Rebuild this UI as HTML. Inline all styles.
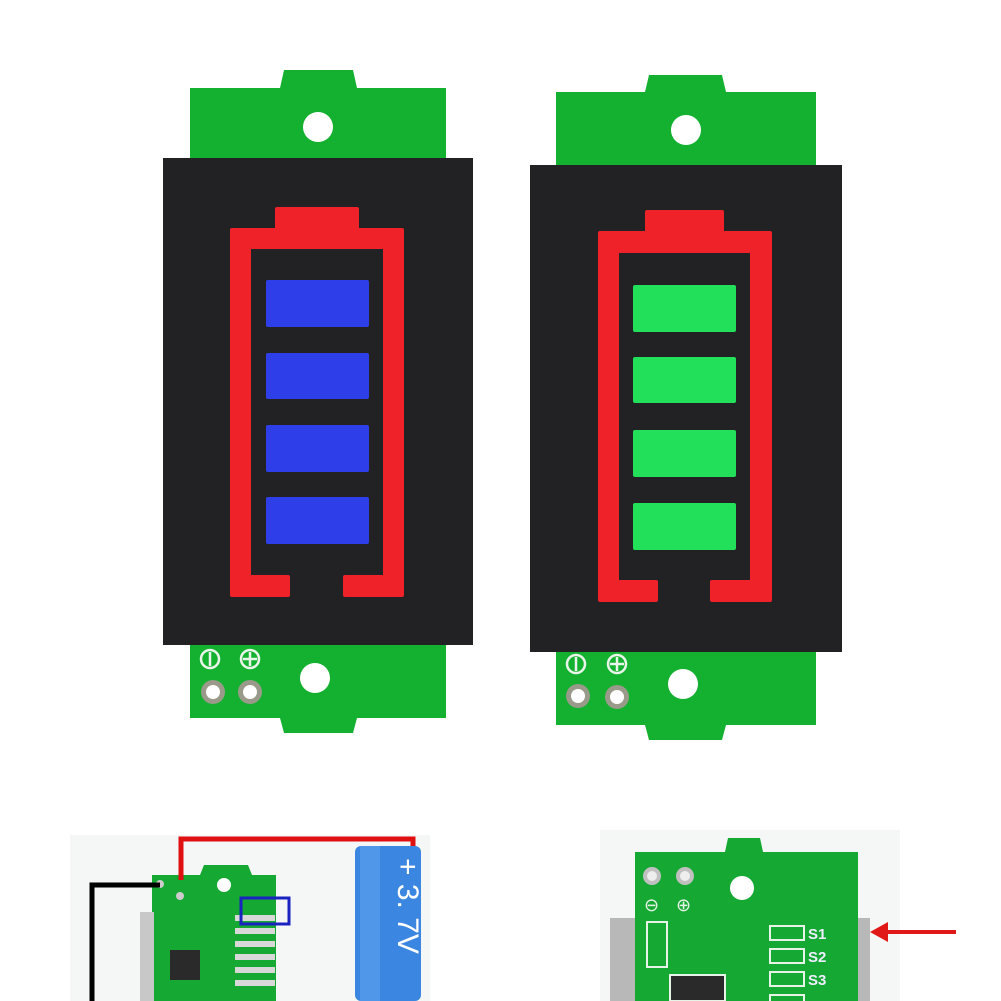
<!DOCTYPE html>
<html><head><meta charset="utf-8"><style>
html,body{margin:0;padding:0;background:#fff;width:1001px;height:1001px;overflow:hidden}
svg{display:block}
text{font-family:"Liberation Sans",sans-serif}
</style></head><body>
<svg width="1001" height="1001" viewBox="0 0 1001 1001" xmlns="http://www.w3.org/2000/svg">
<rect width="1001" height="1001" fill="#fff"/>

<!-- LEFT MODULE -->
<g>
 <path d="M190 88 H280 L284 70 H353 L357 88 H446 V718 H357 L353 733 H284 L280 718 H190 Z" fill="#14b030"/>
 <circle cx="318" cy="127" r="15" fill="#fff"/>
 <circle cx="315" cy="678" r="15" fill="#fff"/>
 <circle cx="213" cy="692" r="12" fill="#9a9a8a"/><circle cx="213" cy="692" r="7" fill="#fff"/>
 <circle cx="250" cy="692" r="12" fill="#9a9a8a"/><circle cx="250" cy="692" r="7" fill="#fff"/>
 <circle cx="210" cy="659" r="9" fill="none" stroke="#e8f5e8" stroke-width="2.5"/><line x1="210" y1="652" x2="210" y2="666" stroke="#e8f5e8" stroke-width="2.5"/>
 <circle cx="250" cy="659" r="9" fill="none" stroke="#e8f5e8" stroke-width="2.5"/><line x1="250" y1="652" x2="250" y2="666" stroke="#e8f5e8" stroke-width="2.5"/><line x1="243" y1="659" x2="257" y2="659" stroke="#e8f5e8" stroke-width="2.5"/>
 <rect x="163" y="158" width="310" height="487" fill="#222225"/>
 <path d="M277 209 H357 V230 H402 V595 H345 V577 H385 V247 H249 V577 H288 V595 H232 V230 H277 Z" fill="#ee2228" stroke="#ee2228" stroke-linejoin="round" stroke-width="4"/>
 <g fill="#2e3ee8">
  <rect x="266" y="280" width="103" height="47" rx="2"/>
  <rect x="266" y="353" width="103" height="46" rx="2"/>
  <rect x="266" y="425" width="103" height="47" rx="2"/>
  <rect x="266" y="497" width="103" height="47" rx="2"/>
 </g>
</g>

<!-- RIGHT MODULE -->
<g>
 <path d="M556 92 H645 L649 75 H722 L726 92 H816 V725 H726 L722 740 H649 L645 725 H556 Z" fill="#14b030"/>
 <circle cx="686" cy="130" r="15" fill="#fff"/>
 <circle cx="683" cy="684" r="15" fill="#fff"/>
 <circle cx="578" cy="696" r="12" fill="#9a9a8a"/><circle cx="578" cy="696" r="7" fill="#fff"/>
 <circle cx="617" cy="697" r="12" fill="#9a9a8a"/><circle cx="617" cy="697" r="7" fill="#fff"/>
 <circle cx="576" cy="664" r="9" fill="none" stroke="#e8f5e8" stroke-width="2.5"/><line x1="576" y1="657" x2="576" y2="671" stroke="#e8f5e8" stroke-width="2.5"/>
 <circle cx="617" cy="664" r="9" fill="none" stroke="#e8f5e8" stroke-width="2.5"/><line x1="617" y1="657" x2="617" y2="671" stroke="#e8f5e8" stroke-width="2.5"/><line x1="610" y1="664" x2="624" y2="664" stroke="#e8f5e8" stroke-width="2.5"/>
 <rect x="530" y="165" width="312" height="487" fill="#222225"/>
 <path d="M647 212 H722 V233 H770 V600 H712 V582 H752 V251 H617 V582 H656 V600 H600 V233 H647 Z" fill="#ee2228" stroke="#ee2228" stroke-linejoin="round" stroke-width="4"/>
 <g fill="#22e05a">
  <rect x="633" y="285" width="103" height="47" rx="2"/>
  <rect x="633" y="357" width="103" height="46" rx="2"/>
  <rect x="633" y="430" width="103" height="47" rx="2"/>
  <rect x="633" y="503" width="103" height="47" rx="2"/>
 </g>
</g>

<!-- BOTTOM LEFT -->
<g>
 <rect x="70" y="835" width="360" height="166" fill="#f5f6f6"/>
 <path d="M152 875 H200 L204 865 H248 L252 875 H276 V1001 H152 Z" fill="#15a832"/>
 <rect x="140" y="912" width="14" height="89" fill="#c8c8c8"/>
 <circle cx="224" cy="885" r="7" fill="#fff"/>
 <circle cx="160" cy="884" r="4" fill="#ccc"/><circle cx="180" cy="896" r="4" fill="#ccc"/>
 <rect x="170" y="950" width="30" height="30" fill="#2a2a2a"/>
 <g fill="#d8d8d8"><rect x="235" y="915" width="40" height="6"/><rect x="235" y="928" width="40" height="6"/><rect x="235" y="941" width="40" height="6"/><rect x="235" y="954" width="40" height="6"/><rect x="235" y="967" width="40" height="6"/><rect x="235" y="980" width="40" height="6"/></g>
 <rect x="241" y="898" width="48" height="26" fill="none" stroke="#1a22c0" stroke-width="3"/>
 <path d="M92 1001 V885 H160" fill="none" stroke="#000" stroke-width="5"/>
 <path d="M181 880 V839 H413 V848" fill="none" stroke="#e01010" stroke-width="5"/>
 <rect x="355" y="846" width="66" height="155" rx="6" fill="#3b86e0"/>
 <rect x="360" y="846" width="20" height="155" fill="#5fa2ee" opacity=".6"/>
 <text transform="translate(398,858) rotate(90)" font-size="30" fill="#fff" font-family="Liberation Serif,serif">+ 3. 7V</text>
</g>

<!-- BOTTOM RIGHT -->
<g>
 <rect x="600" y="830" width="300" height="171" fill="#f5f6f6"/>
 <rect x="610" y="918" width="30" height="83" fill="#b8b8b8"/>
 <rect x="852" y="918" width="18" height="83" fill="#b8b8b8"/>
 <path d="M635 852 H725 L728 838 H760 L763 852 H858 V1001 H635 Z" fill="#15a832"/>
 <circle cx="652" cy="876" r="9" fill="#c0c0c0"/><circle cx="652" cy="876" r="5" fill="#eee"/>
 <circle cx="685" cy="876" r="9" fill="#c0c0c0"/><circle cx="685" cy="876" r="5" fill="#eee"/>
 <circle cx="742" cy="888" r="12" fill="#fff"/>
 <text x="644" y="911" font-size="18" fill="#e6f3e6">⊖</text><text x="676" y="911" font-size="18" fill="#e6f3e6">⊕</text>
 <rect x="647" y="922" width="20" height="45" fill="none" stroke="#e6f3e6" stroke-width="2"/>
 <rect x="670" y="975" width="55" height="26" fill="#2a2a2a" stroke="#e6f3e6" stroke-width="2"/>
 <g fill="none" stroke="#e6f3e6" stroke-width="2"><rect x="770" y="926" width="34" height="14"/><rect x="770" y="949" width="34" height="14"/><rect x="770" y="972" width="34" height="14"/><rect x="770" y="995" width="34" height="10"/></g>
 <text x="808" y="939" font-size="15" font-weight="bold" fill="#eef">S1</text>
 <text x="808" y="962" font-size="15" font-weight="bold" fill="#eef">S2</text>
 <text x="808" y="985" font-size="15" font-weight="bold" fill="#eef">S3</text>
 <line x1="956" y1="932" x2="885" y2="932" stroke="#e01818" stroke-width="4"/>
 <path d="M870 932 L888 922 L888 942 Z" fill="#e01818"/>
</g>
</svg>
</body></html>
